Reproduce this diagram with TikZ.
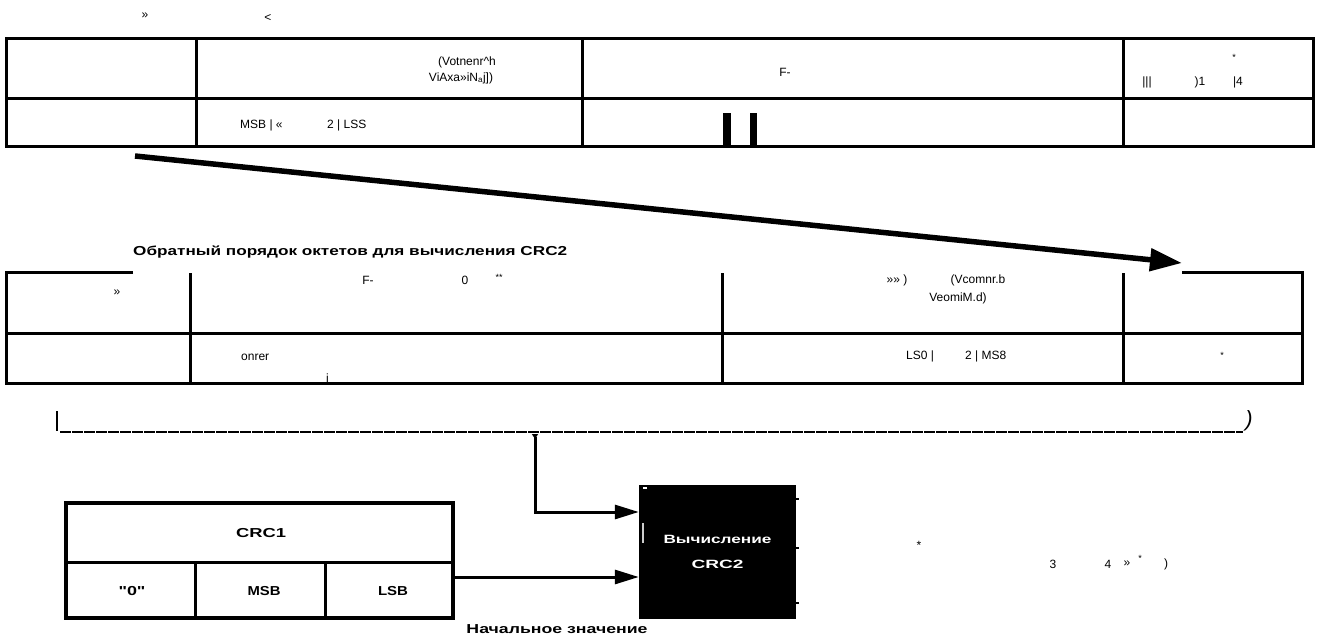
\documentclass[tikz,border=0pt]{standalone}
\usepackage{graphicx}
\usepackage{fontspec}
\setmainfont{Liberation Sans}
\usetikzlibrary{arrows.meta}
\newcommand{\hstretch}[2]{\resizebox{#1}{\height}{#2}}
\begin{document}
\begin{tikzpicture}[x=1pt,y=-1pt,
  tbl/.style={line width=3pt,line join=miter},
  lbl/.style={inner sep=0pt,font=\fontsize{12}{14}\selectfont},
  small/.style={inner sep=0pt,font=\fontsize{9}{10}\selectfont},
  boldlbl/.style={inner sep=0pt,font=\bfseries\fontsize{13}{15}\selectfont},
  conn/.style={line width=3pt,-{Triangle[length=24pt,width=14pt]}},
  bigarrow/.style={line width=5.5pt,-{Triangle[length=32pt,width=22pt]}},
  frame/.style={draw,line width=4pt,inner sep=0pt}
]
\useasboundingbox (0,0) rectangle (1318,637);

% ---------- top table ----------
\draw[tbl] (6,38) rectangle (1313,146);
\draw[tbl] (6,98) -- (1313,98);
\foreach \x in {196,582,1123} \draw[tbl] (\x,38) -- (\x,146);
\fill (723,113) rectangle (731,146);
\fill (750,113) rectangle (757,146);

\node[lbl] (ta) at (145,16) {»};
\node[lbl] (tb) at (268,18) {<};
\node[lbl] (tv1) at (467,62) {(Votnenr\textasciicircum h};
\node[lbl] (tv2) at (461,78) {ViAxa»iN\textsubscript{a}j])};
\node[lbl] (tf) at (785,72) {F-};
\node[small] (tst) at (1234,57) {*};
\node[lbl] (tbar) at (1147,82) {|||};
\node[lbl] (t1) at (1200,82) {)1};
\node[lbl] (t4) at (1238,82) {|4};
\node[lbl,anchor=west] (tmsb) at (240,125) {MSB | «};
\node[lbl,anchor=west] (tlss) at (327,125) {2 | LSS};

% ---------- big arrow ----------
\coordinate (as) at (135,156);
\coordinate (ae) at (1182,263);
\draw[bigarrow] (as) -- (ae);

% ---------- caption ----------
\node[boldlbl,anchor=west] (cap) at (133,252) {\hstretch{434pt}{Обратный порядок октетов для вычисления CRC2}};

% ---------- second table ----------
\draw[tbl] (133,272) -- (6,272) -- (6,383) -- (1302,383) -- (1302,272) -- (1182,272);
\draw[tbl] (6,333) -- (1302,333);
\foreach \x in {190,722,1123} \draw[tbl] (\x,273) -- (\x,383);

\node[lbl] (sa) at (117,293) {»};
\node[lbl] (sf) at (368,280) {F-};
\node[lbl] (s0) at (465,280) {0};
\node[small] (sst) at (499,277) {**};
\node[lbl,anchor=west] (son) at (241,357) {onrer};
\node[lbl,anchor=west] (si) at (326,379) {i\_};
\node[lbl] (sgg) at (897,280) {»» )};
\node[lbl] (sv1) at (978,280) {(Vcomnr.b};
\node[lbl] (sv2) at (958,298) {VeomiM.d)};
\node[lbl,anchor=west] (sls) at (906,356) {LS0 |};
\node[lbl,anchor=west] (sms) at (965,356) {2 | MS8};
\node[small] (sst2) at (1222,355) {*};

% ---------- bracket ----------
\draw[line width=1.5pt] (57,411) -- (57,431);
\draw[line width=1.2pt,dash pattern=on 11pt off 1pt] (60,432) -- (1243,432);
\node[inner sep=0pt,font=\itshape\fontsize{22}{24}\selectfont] (brr) at (1249,421) {)};
\coordinate (brk) at (535,434);

% ---------- CRC1 block ----------
\node[frame,minimum width=387pt,minimum height=115pt] (crc1) at (259.5,560.5) {};
\draw[line width=3pt] (66,562) -- (453,562);
\draw[line width=3pt] (195,562) -- (195,618);
\draw[line width=3pt] (325,562) -- (325,618);
\node[boldlbl] (crcname) at (261,533) {\hstretch{50pt}{CRC1}};
\node[boldlbl] (c0) at (132,591) {\hstretch{27pt}{\textquotedbl 0\textquotedbl}};
\node[boldlbl] (cmsb) at (264,591) {\hstretch{33pt}{MSB}};
\node[boldlbl] (clsb) at (393,591) {\hstretch{30pt}{LSB}};

% ---------- calc block ----------
\node[fill=black,minimum width=157pt,minimum height=134pt,inner sep=0pt,
      text=white,align=center,font=\bfseries\fontsize{12}{25}\selectfont]
      (calc) at (717.5,552) {\hstretch{108pt}{Вычисление}\\\hstretch{52pt}{CRC2}};
\draw[line width=1.5pt] (796,499) -- (799,499) (796,548) -- (799,548) (796,603) -- (799,603);
\draw[white,line width=1.2pt] (643,488) -- (647,488);
\draw[white!80!black,line width=1.2pt] (643,523) -- (643,543);

\coordinate (upin) at ([yshift=40pt]calc.west);
\coordinate (lowin) at ([yshift=-25pt]calc.west);
\draw[conn,{Triangle[reversed,length=5pt,width=6pt]}-{Triangle[length=24pt,width=14pt]}] (brk) |- (upin);
\draw[conn] (crc1.east |- lowin) -- (lowin);

\node[boldlbl] (init) at (557,629) {\hstretch{181pt}{Начальное значение}};

% ---------- bottom right stray marks ----------
\node[lbl] (b1) at (919,545) {*};
\node[lbl] (b3) at (1053,564) {3};
\node[lbl] (b4) at (1108,564) {4};
\node[lbl] (b5) at (1127,564) {»};
\node[small] (b6) at (1140,558) {*};
\node[lbl] (b7) at (1166,564) {)};
\end{tikzpicture}
\end{document}
